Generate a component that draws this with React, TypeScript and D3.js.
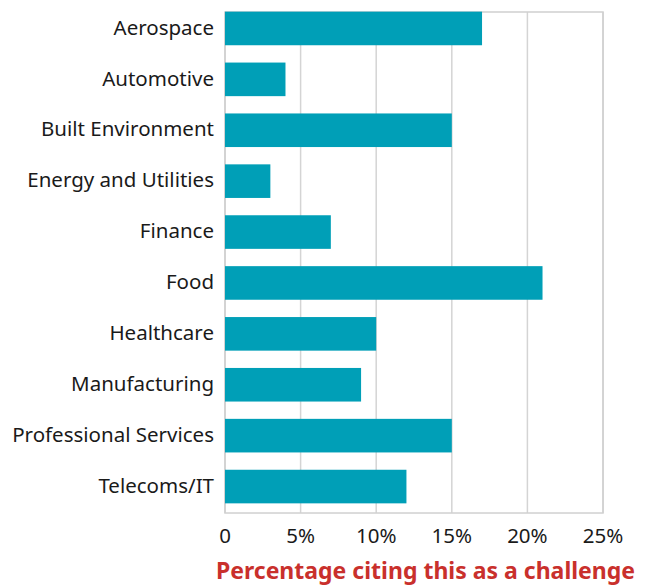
import React from 'react'
import * as d3 from 'd3'

const WIDTH = 648
const HEIGHT = 585

const sectors = [
  'Aerospace',
  'Automotive',
  'Built Environment',
  'Energy and Utilities',
  'Finance',
  'Food',
  'Healthcare',
  'Manufacturing',
  'Professional Services',
  'Telecoms/IT',
]
const percentages = [17, 4, 15, 3, 7, 21, 10, 9, 15, 12]
const ticks = [0, 5, 10, 15, 20, 25]

const BOX = { left: 225, right: 603, top: 12, bottom: 513 }
const FONT = '"Noto Sans", sans-serif'

export default function App() {
  const xScale = d3.scaleLinear().domain([0, 25]).range([BOX.left, BOX.right])
  const yScale = d3
    .scaleBand<string>()
    .domain(sectors)
    .range([3, 512])
    .paddingInner(0.34)
    .paddingOuter(0.17)

  return (
    <svg
      width={WIDTH}
      height={HEIGHT}
      style={{ position: 'absolute', left: 0, top: 0, background: '#fff' }}
    >
      {/* grid */}
      {ticks.map((t) => (
        <line
          key={t}
          x1={xScale(t)}
          x2={xScale(t)}
          y1={BOX.top}
          y2={BOX.bottom}
          stroke="#d4d4d4"
          strokeWidth={1.5}
        />
      ))}
      <rect
        x={BOX.left}
        y={BOX.top}
        width={BOX.right - BOX.left}
        height={BOX.bottom - BOX.top}
        fill="none"
        stroke="#d0d0d0"
        strokeWidth={1.5}
      />

      {/* bars */}
      {sectors.map((s, i) => (
        <rect
          key={s}
          x={xScale(0)}
          y={yScale(s)}
          width={xScale(percentages[i]) - xScale(0)}
          height={yScale.bandwidth()}
          fill="#009fb7"
        />
      ))}

      {/* category labels */}
      {sectors.map((s) => (
        <text
          key={s}
          x={214}
          y={(yScale(s) ?? 0) + yScale.bandwidth() / 2 - 1}
          dy="0.35em"
          textAnchor="end"
          fontFamily={FONT}
          fontSize={20.5}
          fill="#1a1a1a"
        >
          {s}
        </text>
      ))}

      {/* tick labels */}
      {ticks.map((t) => (
        <text
          key={t}
          x={xScale(t)}
          y={536}
          dy="0.35em"
          textAnchor="middle"
          fontFamily={FONT}
          fontSize={20.5}
          fill="#1a1a1a"
        >
          {t === 0 ? '0' : `${t}%`}
        </text>
      ))}

      <text
        x={425.5}
        y={571}
        dy="0.35em"
        textAnchor="middle"
        fontFamily={FONT}
        fontSize={23}
        fontWeight="bold"
        fill="#c9302c"
      >
        Percentage citing this as a challenge
      </text>
    </svg>
  )
}
